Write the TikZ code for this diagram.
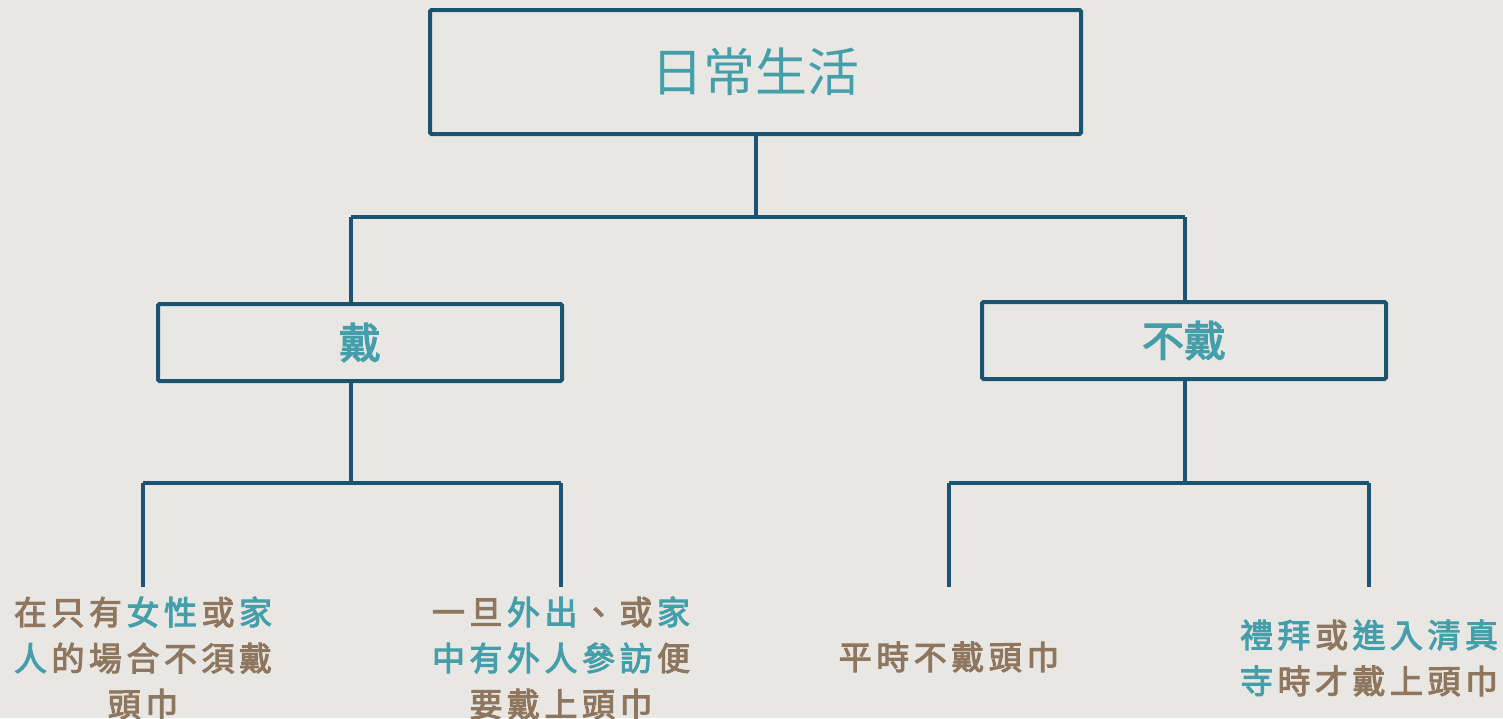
\documentclass[tikz,border=0pt]{standalone}
\usepackage{fontspec}
\newfontfamily\cjk{Noto Sans CJK TC}
\newfontfamily\cjkm[FakeBold=3]{Noto Sans CJK TC}
\definecolor{bg}{HTML}{E9E7E3}
\definecolor{ln}{HTML}{1A5470}
\definecolor{tl}{HTML}{459FAA}
\definecolor{br}{HTML}{8E775E}
\def\lsp#1{\lspA#1\relax}
\def\lspA#1{\ifx#1\relax\else#1\kern4.5pt\expandafter\lspA\fi}
\newcommand{\T}[1]{\textcolor{tl}{\lsp{#1}}}
\newcommand{\B}[1]{\textcolor{br}{\lsp{#1}}}
\tikzset{
  box/.style={draw=ln, line width=4pt, rounded corners=1.5pt, fill=bg, inner sep=0pt},
  conn/.style={draw=ln, line width=4pt},
  leaf/.style={align=center, inner sep=0pt, font=\cjkm\fontsize{33}{46}\selectfont},
}
\begin{document}
\begin{tikzpicture}[x=1pt,y=-1pt]
\fill[bg] (0,0) rectangle (1503,718);
\useasboundingbox (0,0) rectangle (1503,718);
% boxes
\node[box, minimum width=651pt, minimum height=124pt, text=tl, font=\cjk\fontsize{52}{60}\selectfont] (top) at (755.5,72) {日常生活};
\node[box, minimum width=404pt, minimum height=77pt, text=tl, font=\cjkm\fontsize{42}{50}\selectfont] (wear) at (360,342.5) {戴};
\node[box, minimum width=404pt, minimum height=77pt, text=tl, font=\cjkm\fontsize{42}{50}\selectfont] (nowear) at (1184,340.5) {不戴};
% coordinates
\coordinate (j0) at (756,217);
\coordinate (jl) at (351,217);
\coordinate (jr) at (1185,217);
\coordinate (k0) at (351,483);
\coordinate (kl) at (143,483);
\coordinate (kr) at (561,483);
\coordinate (el) at (143,587);
\coordinate (er) at (561,587);
\coordinate (m0) at (1185,483);
\coordinate (ml) at (949,483);
\coordinate (mr) at (1369,483);
\coordinate (fl) at (949,587);
\coordinate (fr) at (1369,587);
% connectors
\draw[conn] (top.south -| j0) -- (j0);
\draw[conn] (jl) -- (jr);
\draw[conn] (jl) -- (wear.north -| jl);
\draw[conn] (jr) -- (nowear.north -| jr);
\draw[conn] (wear.south -| k0) -- (k0);
\draw[conn] (kl) -- (kr);
\draw[conn] (kl) -- (el);
\draw[conn] (kr) -- (er);
\draw[conn] (nowear.south -| m0) -- (m0);
\draw[conn] (ml) -- (mr);
\draw[conn] (ml) -- (fl);
\draw[conn] (mr) -- (fr);
% leaves
\node[leaf] (a) at (145.25,658) {\B{在只有}\T{女性}\B{或}\T{家}\\\T{人}\B{的場合不須戴}\\\B{頭巾}};
\node[leaf] (b) at (563.25,658) {\B{一旦}\T{外出}\B{、或}\T{家}\\\T{中有外人參訪}\B{便}\\\B{要戴上頭巾}};
\node[leaf] (c) at (951.25,657) {\B{平時不戴頭巾}};
\node[leaf] (d) at (1371.25,658) {\T{禮拜}\B{或}\T{進入清真}\\\T{寺}\B{時才戴上頭巾}};
\end{tikzpicture}
\end{document}
